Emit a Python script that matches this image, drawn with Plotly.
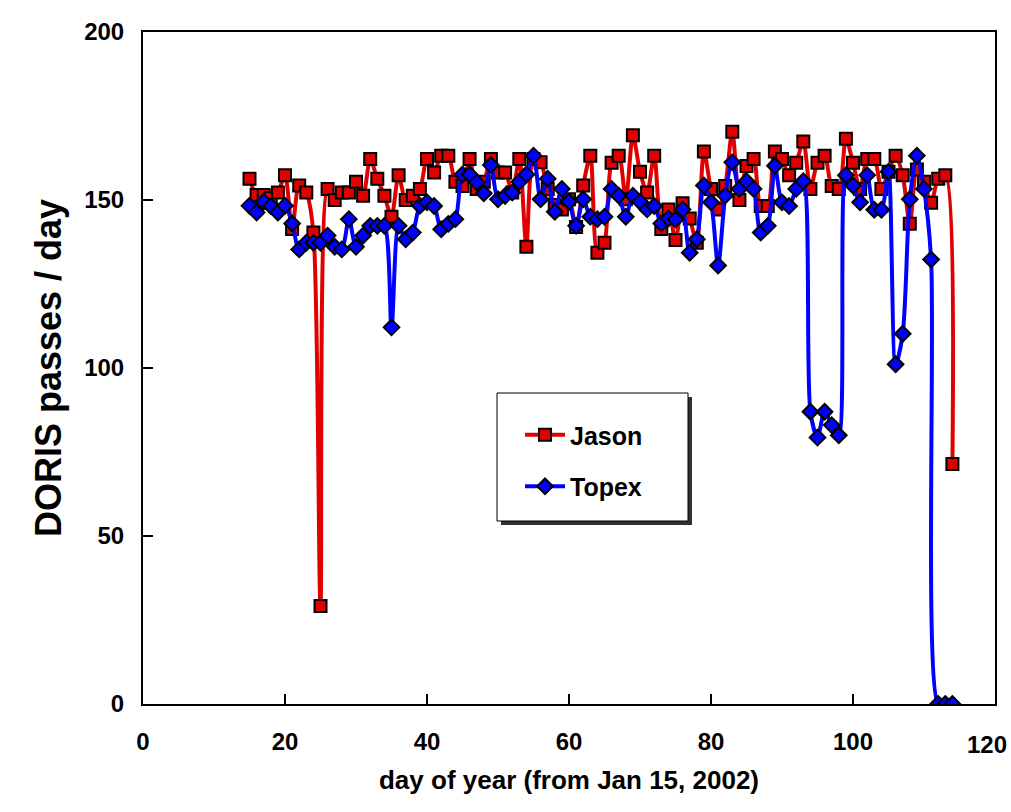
import plotly.graph_objects as go

days = list(range(15, 115))

jason = [
    156.3, 151.5, 151.5, 150.6, 152.2, 157.4, 141.4, 154.3, 152.2, 140.3,
    29.2, 153.3, 150.0, 152.2, 152.2, 155.4, 151.3, 162.2, 156.3, 151.3,
    145.0, 157.4, 150.0, 151.3, 153.3, 162.2, 158.2, 163.2, 163.2, 155.4,
    154.2, 162.2, 153.3, 155.4, 162.2, 158.2, 158.2, 152.2, 162.2, 136.1,
    162.2, 161.2, 153.3, 148.5, 147.2, 150.2, 142.0, 154.3, 163.2, 134.3,
    137.3, 161.1, 163.2, 150.2, 169.3, 158.4, 152.2, 163.2, 141.4, 147.2,
    138.1, 149.0, 144.5, 137.3, 164.4, 153.3, 147.2, 154.2, 170.3, 150.0,
    160.1, 162.2, 148.2, 148.2, 164.4, 162.2, 157.4, 161.1, 167.4, 153.3,
    161.1, 163.2, 154.2, 153.3, 168.2, 161.1, 153.3, 162.2, 162.2, 153.3,
    158.4, 163.2, 157.4, 142.9, 159.1, 155.4, 149.2, 156.3, 157.4, 71.4,
]

topex = [
    148.3, 146.3, 149.5, 148.2, 146.3, 148.3, 143.0, 135.3, 137.3, 137.3,
    137.3, 139.4, 136.1, 135.3, 144.3, 136.1, 139.4, 142.3, 142.3, 142.3,
    112.1, 142.3, 138.3, 140.3, 148.3, 149.3, 148.2, 141.3, 142.9, 144.3,
    157.6, 157.6, 155.3, 152.0, 160.4, 150.2, 151.2, 152.2, 155.4, 157.6,
    163.2, 150.2, 156.3, 146.5, 153.3, 149.5, 142.3, 150.2, 145.0, 144.3,
    145.0, 153.3, 151.3, 145.0, 151.3, 149.5, 147.2, 148.2, 143.0, 144.5,
    144.2, 147.2, 134.3, 138.3, 154.3, 149.3, 130.5, 151.3, 161.2, 153.3,
    155.6, 153.3, 140.3, 142.3, 160.2, 149.3, 148.2, 153.3, 155.6, 87.0,
    79.3, 87.0, 83.0, 80.0, 157.4, 154.3, 149.3, 157.4, 147.1, 147.1,
    158.4, 101.1, 110.2, 150.2, 163.2, 153.3, 132.3, 0.0, 0.0, 0.0,
]

x_ticks = [0, 20, 40, 60, 80, 100, 120]
y_ticks = [0, 50, 100, 150, 200]

FONT = "Liberation Sans"
PL, PR, PT, PB = 143, 995, 32, 704  # plot area in pixels
PW, PH = PR - PL, PB - PT


def px(xp):
    return (xp - PL) / PW


def py(yp):
    return (PB - yp) / PH


fig = go.Figure()
fig.add_trace(go.Scatter(
    x=days, y=jason, name="Jason", mode="lines+markers",
    line=dict(color="#e00000", width=4, shape="spline", smoothing=0.8),
    marker=dict(symbol="square", size=12, color="#e00000",
                line=dict(color="black", width=2)),
    legendgroup="j",
))
fig.add_trace(go.Scatter(
    x=days, y=topex, name="Topex", mode="lines+markers",
    line=dict(color="#0000ff", width=4, shape="spline", smoothing=0.8),
    marker=dict(symbol="diamond", size=12, color="#0000ff",
                line=dict(color="black", width=2)),
    legendgroup="t",
))

# legend box with drop shadow
fig.add_shape(type="rect", xref="paper", yref="paper",
              x0=px(501), x1=px(692), y0=py(525), y1=py(397),
              fillcolor="#303030", line=dict(width=0), layer="above")
fig.add_shape(type="rect", xref="paper", yref="paper",
              x0=px(497), x1=px(688), y0=py(521), y1=py(393),
              fillcolor="white", line=dict(color="black", width=1), layer="above")

# last x tick label kept inside the page (right-aligned at the edge)
tick_text = [str(v) for v in x_ticks[:-1]] + [""]
fig.add_annotation(
    x=px(1009), y=py(745), xref="paper", yref="paper",
    xanchor="right", yanchor="middle", showarrow=False,
    text=str(x_ticks[-1]),
    font=dict(family=FONT, size=24, color="black", weight="bold"),
)

fig.update_layout(
    width=1011, height=812,
    margin=dict(l=PL, r=1011 - PR, t=PT, b=812 - PB, autoexpand=False),
    paper_bgcolor="white", plot_bgcolor="white",
    font=dict(family=FONT, size=24, color="black", weight="bold"),
    showlegend=True,
    legend=dict(
        x=px(520), y=py(412),
        xanchor="left", yanchor="top",
        bgcolor="rgba(0,0,0,0)", borderwidth=0,
        font=dict(family=FONT, size=25, color="black", weight="bold"),
        tracegroupgap=16, traceorder="grouped",
        itemwidth=40,
    ),
    xaxis=dict(
        range=[0, 120], tickvals=x_ticks, ticktext=tick_text,
        showgrid=False, zeroline=False, showline=True, linecolor="black",
        linewidth=2, mirror=True, ticks="inside", ticklen=10, tickwidth=2,
        tickcolor="black", ticklabelstandoff=15,
        automargin=False,
        title=dict(text="day of year (from Jan 15, 2002)",
                   font=dict(family=FONT, size=26, weight="bold"), standoff=17),
        tickfont=dict(family=FONT, size=24, weight="bold"),
    ),
    yaxis=dict(
        range=[0, 200], tickvals=y_ticks, ticktext=[str(v) for v in y_ticks],
        showgrid=False, zeroline=False, showline=True, linecolor="black",
        linewidth=2, mirror=True, ticks="inside", ticklen=10, tickwidth=2,
        tickcolor="black", ticklabelstandoff=12, automargin=False,
        title=dict(text="DORIS passes / day",
                   font=dict(family=FONT, size=36, weight="bold"), standoff=12),
        tickfont=dict(family=FONT, size=24, weight="bold"),
    ),
)

fig.write_html("out.html")
